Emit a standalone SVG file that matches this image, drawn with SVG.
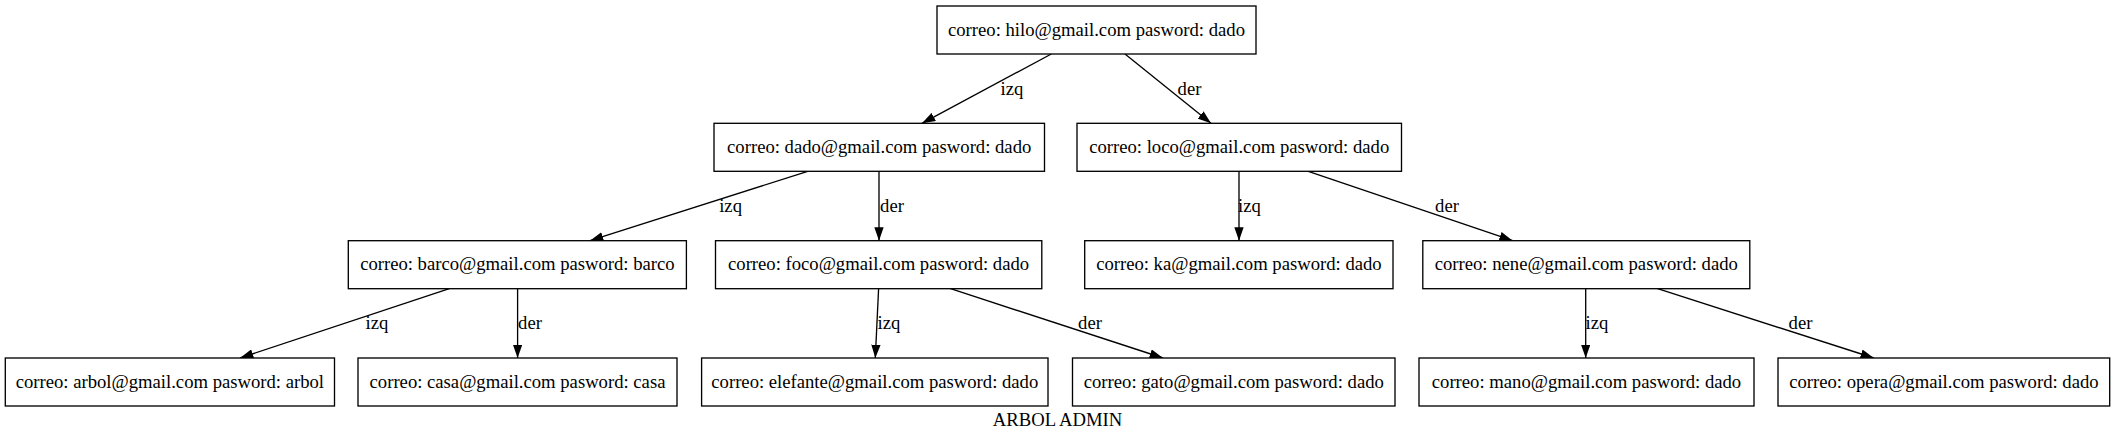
<svg xmlns="http://www.w3.org/2000/svg" width="2115" height="443" viewBox="0 0 2115 443">
<style>
.node rect{fill:#fff;stroke:#000;stroke-width:1.33}
text{font-family:"Liberation Serif","Times New Roman",serif;font-size:18.67px;fill:#000;text-anchor:middle}
.edges line{stroke:#000;stroke-width:1.33;marker-end:url(#arr)}
</style>
<defs>
<marker id="arr" markerUnits="userSpaceOnUse" viewBox="0 0 10 7" refX="10" refY="3.5" markerWidth="13.33" markerHeight="9.33" orient="auto">
<path d="M0,0 L10,3.5 L0,7 z" fill="#000"/>
</marker>
</defs>
<rect width="2115" height="443" fill="#fff"/>
<g class="edges" id="connectors">
<line x1="1051.3" y1="54" x2="922" y2="123.3"/>
<line x1="1125" y1="54" x2="1211" y2="123.3"/>
<line x1="807.7" y1="171.3" x2="590" y2="240.7"/>
<line x1="879" y1="171.3" x2="879" y2="240.7"/>
<line x1="1239" y1="171.3" x2="1239" y2="240.7"/>
<line x1="1308.3" y1="171.3" x2="1512.7" y2="240.7"/>
<line x1="449.3" y1="288.7" x2="240" y2="358"/>
<line x1="517.6" y1="288.7" x2="517.6" y2="358"/>
<line x1="878.6" y1="288.7" x2="875.3" y2="358"/>
<line x1="950.6" y1="288.7" x2="1163" y2="358"/>
<line x1="1585.7" y1="288.7" x2="1585.7" y2="358"/>
<line x1="1657.6" y1="288.7" x2="1873.8" y2="358"/>
<text x="1012" y="94.5">izq</text>
<text x="1189.5" y="94.5">der</text>
<text x="730.6" y="212">izq</text>
<text x="892" y="212">der</text>
<text x="1249.5" y="212">izq</text>
<text x="1447" y="212">der</text>
<text x="377" y="329.3">izq</text>
<text x="530" y="329.3">der</text>
<text x="889" y="329.3">izq</text>
<text x="1090" y="329.3">der</text>
<text x="1597" y="329.3">izq</text>
<text x="1800.5" y="329.3">der</text>
</g>
<g class="node" id="hilo"><rect x="937" y="6" width="319" height="48"/><text x="1096.5" y="35.6">correo: hilo@gmail.com pasword: dado</text></g>
<g class="node" id="dado"><rect x="714" y="123.3" width="330.5" height="48"/><text x="879.2" y="152.9">correo: dado@gmail.com pasword: dado</text></g>
<g class="node" id="loco"><rect x="1077" y="123.3" width="324.5" height="48"/><text x="1239.2" y="152.9">correo: loco@gmail.com pasword: dado</text></g>
<g class="node" id="barco"><rect x="348.3" y="240.7" width="338.1" height="48"/><text x="517.4" y="270.3">correo: barco@gmail.com pasword: barco</text></g>
<g class="node" id="foco"><rect x="715.5" y="240.7" width="326.3" height="48"/><text x="878.6" y="270.3">correo: foco@gmail.com pasword: dado</text></g>
<g class="node" id="ka"><rect x="1084.7" y="240.7" width="308.3" height="48"/><text x="1238.9" y="270.3">correo: ka@gmail.com pasword: dado</text></g>
<g class="node" id="nene"><rect x="1422.8" y="240.7" width="327" height="48"/><text x="1586.3" y="270.3">correo: nene@gmail.com pasword: dado</text></g>
<g class="node" id="arbol"><rect x="5.3" y="358" width="329.2" height="48"/><text x="169.9" y="387.6">correo: arbol@gmail.com pasword: arbol</text></g>
<g class="node" id="casa"><rect x="358" y="358" width="319" height="48"/><text x="517.5" y="387.6">correo: casa@gmail.com pasword: casa</text></g>
<g class="node" id="elefante"><rect x="701.6" y="358" width="346.4" height="48"/><text x="874.8" y="387.6">correo: elefante@gmail.com pasword: dado</text></g>
<g class="node" id="gato"><rect x="1072.5" y="358" width="322.5" height="48"/><text x="1233.8" y="387.6">correo: gato@gmail.com pasword: dado</text></g>
<g class="node" id="mano"><rect x="1419" y="358" width="335" height="48"/><text x="1586.5" y="387.6">correo: mano@gmail.com pasword: dado</text></g>
<g class="node" id="opera"><rect x="1778" y="358" width="331.7" height="48"/><text x="1943.9" y="387.6">correo: opera@gmail.com pasword: dado</text></g>
<text id="graph-label" x="1057.5" y="425.5">ARBOL ADMIN</text>
</svg>
